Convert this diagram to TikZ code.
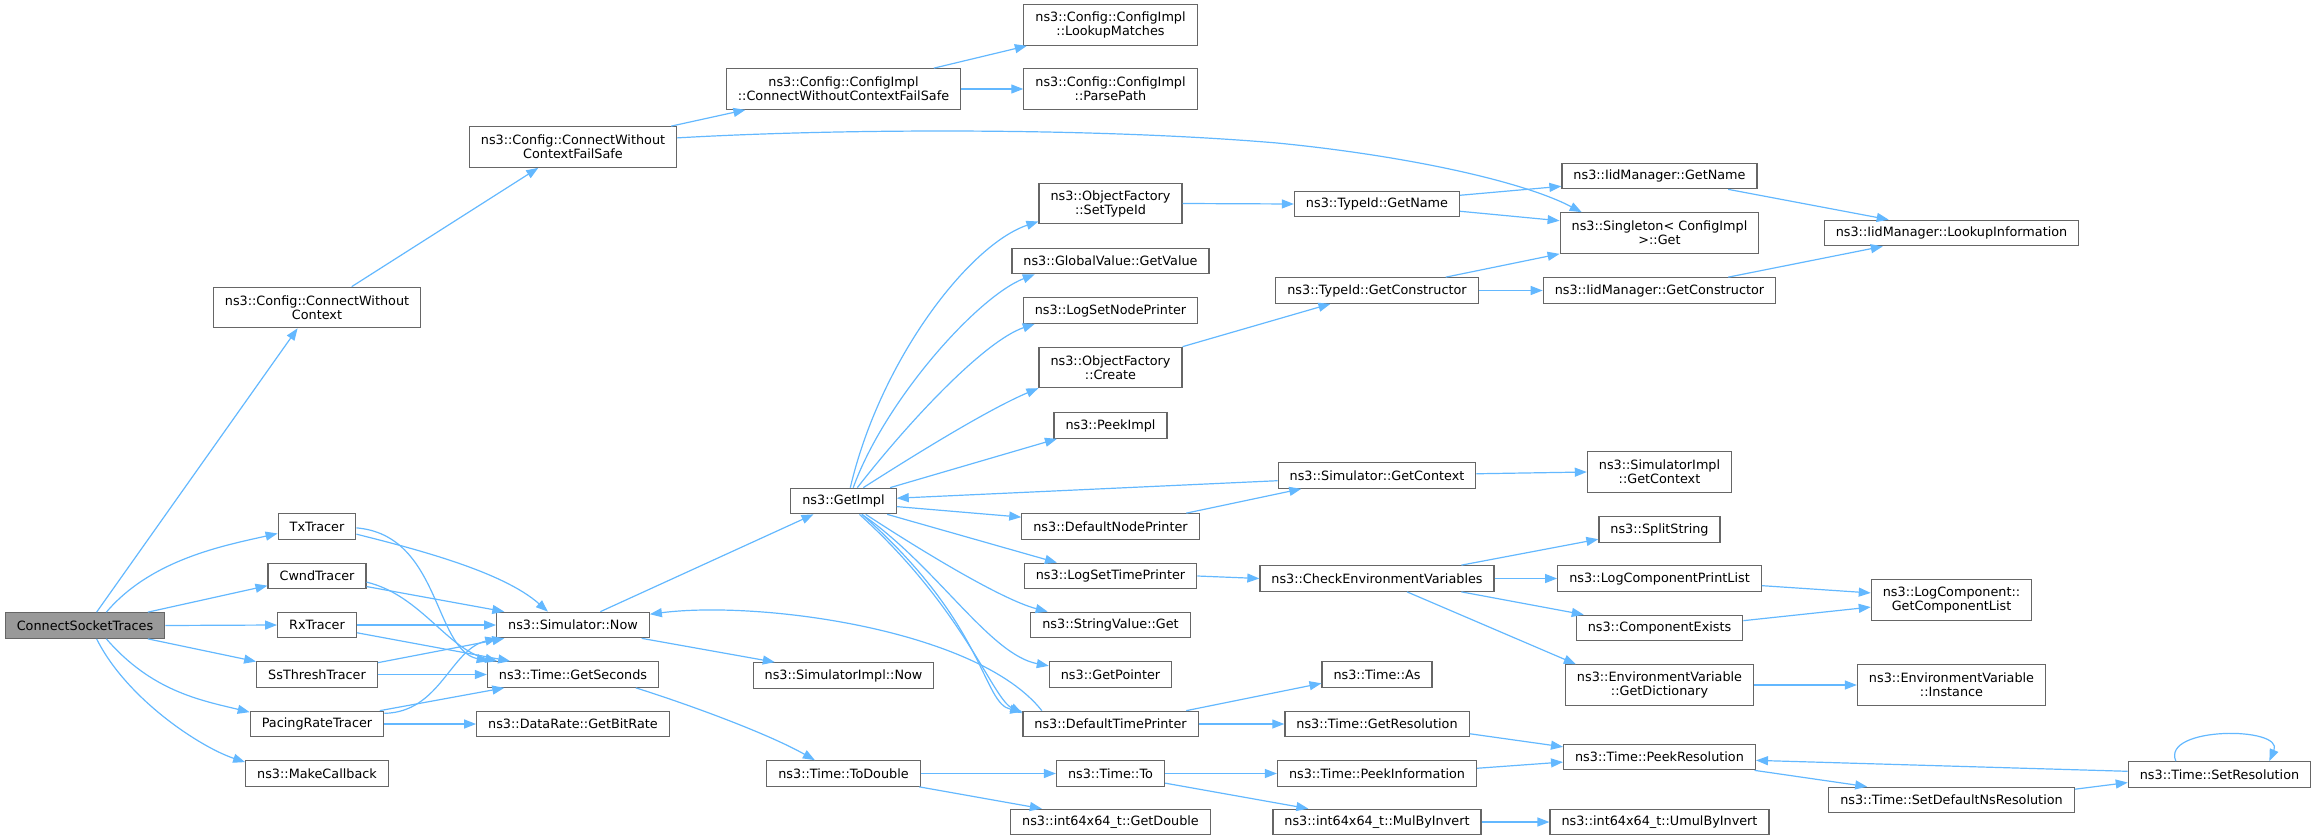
\documentclass[tikz,border=0pt]{standalone}
\usepackage{fontspec}
\setmainfont{DejaVu Sans}
\usepackage{tikz}
\usetikzlibrary{arrows.meta}
\definecolor{callblue}{HTML}{63B8FF}
\definecolor{boxgray}{HTML}{666666}
\definecolor{rootgray}{HTML}{999999}

\begin{document}
\begin{tikzpicture}[x=1pt,y=-1pt]
      \tikzstyle{every node}=[draw=boxgray, fill=white, line width=1.2pt, inner xsep=11.5pt, inner ysep=3pt,
                              minimum height=25.5pt, align=center, font=\fontsize{12.8}{14}\selectfont]
      \tikzstyle{twoline}=[minimum height=40.5pt]
      \tikzstyle{call}=[draw=callblue, line width=1.2pt, -{Triangle[length=12pt,width=9pt]}]
      \useasboundingbox (0,0) rectangle (2317,840);

      \node[fill=rootgray] (cst) at (85,625.5) {ConnectSocketTraces};

      \node[twoline] (cwc) at (317,307.5) {ns3::Config::ConnectWithout\\Context};
      \node (tx)     at (317,526.5) {TxTracer};
      \node (cwnd)   at (317,576)   {CwndTracer};
      \node (rx)     at (317,625)   {RxTracer};
      \node (ssth)   at (317,674.5) {SsThreshTracer};
      \node (pacing) at (317,724)   {PacingRateTracer};
      \node (mkcb)   at (317,773.5) {ns3::MakeCallback};

      \node[twoline] (cwcfs) at (573,147) {ns3::Config::ConnectWithout\\ContextFailSafe};
      \node (now)     at (573,625)   {ns3::Simulator::Now};
      \node (getsec)  at (573,674.5) {ns3::Time::GetSeconds};
      \node (bitrate) at (573,724)   {ns3::DataRate::GetBitRate};

      \node[twoline] (implcwcfs) at (843.5,89) {ns3::Config::ConfigImpl\\::ConnectWithoutContextFailSafe};
      \node (getimpl)  at (843.5,501)   {ns3::GetImpl};
      \node (implnow)  at (843.5,675.5) {ns3::SimulatorImpl::Now};
      \node (todouble) at (843.5,773.5) {ns3::Time::ToDouble};

      \node[twoline] (lookup) at (1110.5,25)    {ns3::Config::ConfigImpl\\::LookupMatches};
      \node[twoline] (parse)  at (1110.5,89)    {ns3::Config::ConfigImpl\\::ParsePath};
      \node[twoline] (settid) at (1110.5,203.5) {ns3::ObjectFactory\\::SetTypeId};
      \node (gvget)   at (1110.5,261)   {ns3::GlobalValue::GetValue};
      \node (lognode) at (1110.5,310.5) {ns3::LogSetNodePrinter};
      \node[twoline] (create) at (1110.5,367.5) {ns3::ObjectFactory\\::Create};
      \node (peek)    at (1110.5,425.5) {ns3::PeekImpl};
      \node (defnode) at (1110.5,526.5) {ns3::DefaultNodePrinter};
      \node (logtime) at (1110.5,576)   {ns3::LogSetTimePrinter};
      \node (strget)  at (1110.5,625)   {ns3::StringValue::Get};
      \node (getptr)  at (1110.5,674.5) {ns3::GetPointer};
      \node (deftime) at (1110.5,724)   {ns3::DefaultTimePrinter};
      \node (to)      at (1110.5,773.5) {ns3::Time::To};
      \node (getdbl)  at (1110.5,822)   {ns3::int64x64\_t::GetDouble};

      \node (tidname)  at (1377,204)   {ns3::TypeId::GetName};
      \node (tidctor)  at (1377,290.5) {ns3::TypeId::GetConstructor};
      \node (getctx)   at (1377,475.5) {ns3::Simulator::GetContext};
      \node (checkenv) at (1377,578.5) {ns3::CheckEnvironmentVariables};
      \node (as)       at (1377,674.5) {ns3::Time::As};
      \node (getres)   at (1377,724)   {ns3::Time::GetResolution};
      \node (peekinfo) at (1377,773.5) {ns3::Time::PeekInformation};
      \node (mulinv)   at (1377,822)   {ns3::int64x64\_t::MulByInvert};

      \node (iidname)   at (1659.5,176)   {ns3::IidManager::GetName};
      \node[twoline] (single)  at (1659.5,233) {ns3::Singleton< ConfigImpl\\>::Get};
      \node (iidctor)   at (1659.5,290.5) {ns3::IidManager::GetConstructor};
      \node[twoline] (implctx) at (1659.5,472) {ns3::SimulatorImpl\\::GetContext};
      \node (split)     at (1659.5,529.5) {ns3::SplitString};
      \node (printlist) at (1659.5,578.5) {ns3::LogComponentPrintList};
      \node (exists)    at (1659.5,628)   {ns3::ComponentExists};
      \node[twoline] (getdict) at (1659.5,685) {ns3::EnvironmentVariable\\::GetDictionary};
      \node (peekres)   at (1659.5,757)   {ns3::Time::PeekResolution};
      \node (umulinv)   at (1659.5,822)   {ns3::int64x64\_t::UmulByInvert};

      \node (lookupinfo) at (1951.5,233) {ns3::IidManager::LookupInformation};
      \node[twoline] (complist) at (1951.5,600) {ns3::LogComponent::\\GetComponentList};
      \node[twoline] (instance) at (1951.5,685) {ns3::EnvironmentVariable\\::Instance};
      \node (setdefns)   at (1951.5,800) {ns3::Time::SetDefaultNsResolution};

      \node (setres) at (2219.5,774.5) {ns3::Time::SetResolution};

      \draw[call] (cst.49) -- (cwc.227);
      \draw[call] (cst.32) .. controls +(45,-53) and +(-53,12) .. (tx.190);
      \draw[call] (cst.12) -- (cwnd.191);
      \draw[call] (cst.east) -- (rx.west);
      \draw[call] (cst.-12) -- (ssth.168);
      \draw[call] (cst.-32) .. controls +(45,52) and +(-50,-12) .. (pacing.170);
      \draw[call] (cst.-49) .. controls +(30,60) and +(-45,-15) .. (mkcb.171);

      \draw[call] (cwc.31) -- (cwcfs.211);
      \draw[call] (cwcfs.12) -- (implcwcfs.192);
      \draw[call] (cwcfs.5) .. controls (850,128) and (1100,128) .. (1277,143)
                            .. controls (1400,155) and (1520,180) .. (single.165);
      \draw[call] (implcwcfs.13) -- (lookup.194);
      \draw[call] (implcwcfs.east) -- (parse.west);

      \draw[call] (tx.349) .. controls +(60,15) and +(-45,-40) .. (now.152);
      \draw[call] (tx.358) .. controls +(84,7) and +(-55,-12) .. (getsec.171);
      \draw[call] (cwnd.348.5) -- (now.169.5);
      \draw[call] (cwnd.353) .. controls +(54,13) and +(-50,-12) .. (getsec.170);
      \draw[call] (rx.east) -- (now.west);
      \draw[call] (rx.349) -- (getsec.168.5);
      \draw[call] (ssth.11) -- (now.191);
      \draw[call] (ssth.east) -- (getsec.west);
      \draw[call] (pacing.9) .. controls +(56,-1) and +(-47,11) .. (now.190);
      \draw[call] (pacing.12) -- (getsec.191);
      \draw[call] (pacing.east) -- (bitrate.west);

      \draw[call] (now.26) -- (getimpl.204);
      \draw[call] (now.-11) -- (implnow.169.4);
      \draw[call] (getsec.-12) .. controls +(57,18) and +(-46,-26) .. (todouble.155);
      \draw[call] (todouble.east) -- (to.west);
      \draw[call] (todouble.-10.5) -- (getdbl.169.1);

      \draw[call] (getimpl.63.4) .. controls +(30,-128) and +(-69,23) .. (settid.194.5);
      \draw[call] (getimpl.54) .. controls +(32,-88) and +(-57,22) .. (gvget.190);
      \draw[call] (getimpl.44) .. controls +(53,-68) and +(-50,17) .. (lognode.190);
      \draw[call] (getimpl.34) .. controls +(47,-30) and +(-52,22) .. (create.196.7);
      \draw[call] (getimpl.16.3) -- (peek.194.2);
      \draw[call] (getctx.183) -- (getimpl.3.3);
      \draw[call] (getimpl.-6.5) -- (defnode.174.5);
      \draw[call] (getimpl.-17.4) -- (logtime.166.5);
      \draw[call] (getimpl.-31) .. controls +(55,36) and +(-46,-12) .. (strget.168.5);
      \draw[call] (getimpl.-36.6) .. controls +(74,51) and +(-59,-11) .. (getptr.172);
      \draw[call] (getimpl.-36.6) .. controls +(125,110) and +(-40,-8) .. (deftime.172);
      \draw[call] (getimpl.-40) .. controls +(105,95) and +(-30,-15) .. (deftime.173.5);

      \draw[call] (defnode.10.5) -- (getctx.190.6);
      \draw[call] (getctx.1) -- (implctx.west);
      \draw[call] (logtime.east) -- (checkenv.west);
      \draw[call] (deftime.169.6) .. controls +(-64,-81) and +(110,-14) .. (now.8.1);
      \draw[call] (deftime.10.8) -- (as.189);
      \draw[call] (deftime.east) -- (getres.west);
      \draw[call] (getres.-6.7) -- (peekres.174);
      \draw[call] (to.east) -- (peekinfo.west);
      \draw[call] (to.-10) -- (mulinv.169);
      \draw[call] (peekinfo.3.7) -- (peekres.183);
      \draw[call] (mulinv.east) -- (umulinv.west);
      \draw[call] (peekres.-8.5) -- (setdefns.171.3);
      \draw[call] (setdefns.5.5) -- (setres.185.3);
      \draw[call] (setres.178.4) -- (peekres.358);
      \draw[call] (setres.163) .. controls +(-15,-35) and +(15,-35) .. (setres.15);

      \draw[call] (checkenv.9.8) -- (split.189.8);
      \draw[call] (checkenv.east) -- (printlist.west);
      \draw[call] (checkenv.-9.8) -- (exists.170);
      \draw[call] (checkenv.-24.8) -- (getdict.166);
      \draw[call] (printlist.-4.2) -- (complist.175);
      \draw[call] (exists.5.5) -- (complist.185.7);
      \draw[call] (getdict.east) -- (instance.west);

      \draw[call] (settid.east) -- (tidname.west);
      \draw[call] (create.north east) -- (tidctor.196.6);
      \draw[call] (tidname.6.2) -- (iidname.186.4);
      \draw[call] (tidname.-5.5) -- (single.173.7);
      \draw[call] (tidctor.11.4) -- (single.south west);
      \draw[call] (tidctor.east) -- (iidctor.west);
      \draw[call] (iidname.-11.6) -- (lookupinfo.168.6);
      \draw[call] (iidctor.11.1) -- (lookupinfo.191.4);
\end{tikzpicture}
\end{document}
